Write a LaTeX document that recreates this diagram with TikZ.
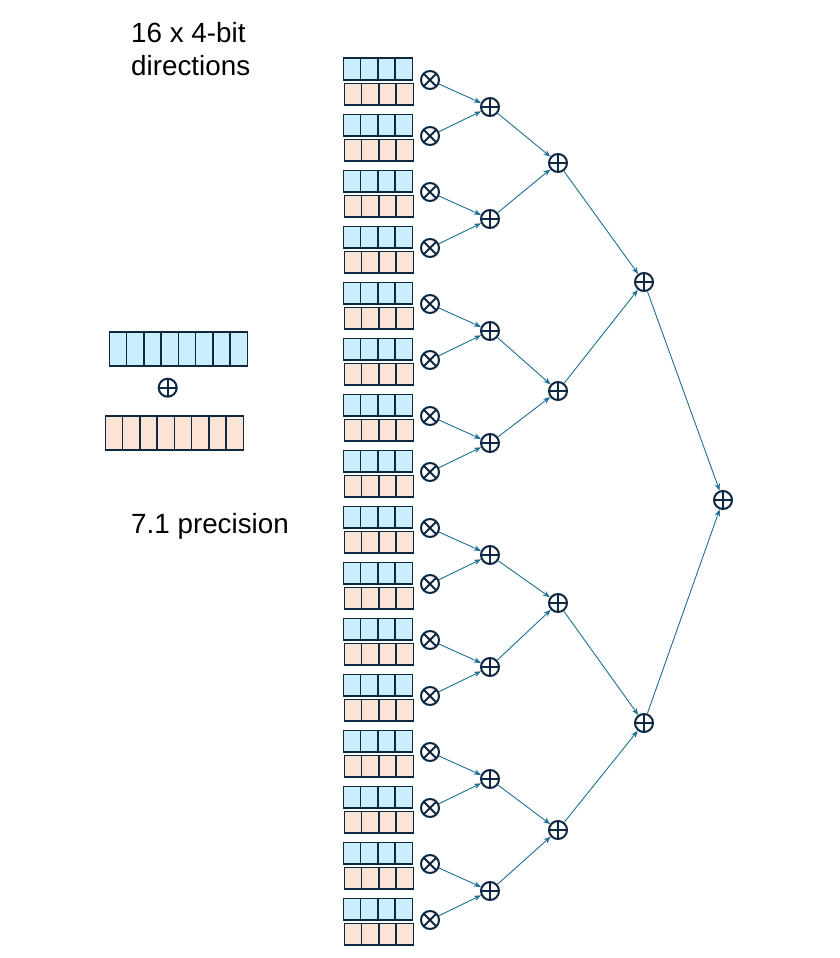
\documentclass[tikz,border=0pt]{standalone}
\usepackage{fontspec}
\setmainfont{Liberation Sans}
\usetikzlibrary{arrows.meta}
\definecolor{cellblue}{HTML}{CAEEFB}
\definecolor{cellpink}{HTML}{FBE3D6}
\definecolor{edgec}{HTML}{0E2841}
\definecolor{arrowc}{HTML}{1F6E94}
\tikzset{
  opnode/.style={circle, draw=edgec, line width=2pt, minimum size=18pt, inner sep=0pt},
  plusop/.style={opnode, path picture={\draw[edgec,line width=1.8pt]
      (path picture bounding box.north)--(path picture bounding box.south)
      (path picture bounding box.west)--(path picture bounding box.east);}},
  timesop/.style={opnode, path picture={\draw[edgec,line width=1.8pt]
      (path picture bounding box.north west)--(path picture bounding box.south east)
      (path picture bounding box.north east)--(path picture bounding box.south west);}},
  link/.style={draw=arrowc, line width=0.9pt, -{Stealth[length=7pt,width=5.5pt]}},
  txtlabel/.style={anchor=base west, inner sep=0pt, font=\fontsize{27.8}{32}\selectfont},
  cellrow/.style={draw=edgec, line width=1.6pt}
}
\begin{document}
\begin{tikzpicture}[x=1pt,y=-1pt]
\path[use as bounding box] (0,0) rectangle (840,958);

% captions
\node[txtlabel] (t1) at (131,43) {16 x 4-bit};
\node[txtlabel] (t2) at (131,75) {directions};
\node[txtlabel] (t3) at (131,533) {7.1 precision};

% big boxes
\filldraw[fill=cellblue, cellrow] (109.3,331.7) rectangle (247.3,366);
\foreach \k in {1,...,7} \draw[cellrow] (109.3+17.25*\k,331.7) -- (109.3+17.25*\k,366);
\filldraw[fill=cellpink, cellrow] (105.3,415.7) rectangle (243.3,450);
\foreach \k in {1,...,7} \draw[cellrow] (105.3+17.25*\k,415.7) -- (105.3+17.25*\k,450);
\node[plusop] (bigplus) at (167.7,387.7) {};

% adder tree nodes
\foreach \j/\yy in {0/107,1/219,2/331,3/443,4/555,5/667,6/779,7/891}
  \node[plusop] (a\j) at (490,\yy) {};
\foreach \j/\yy in {0/163,1/391,2/603,3/830}
  \node[plusop] (b\j) at (558,\yy) {};
\node[plusop] (c0) at (644,282) {};
\node[plusop] (c1) at (644,723) {};
\node[plusop] (d0) at (723,500) {};

% 16 pairs
\foreach \i in {0,...,15} {
  \pgfmathsetmacro\yb{58.3+56*\i}
  \pgfmathsetmacro\yp{83.3+56*\i}
  \filldraw[fill=cellblue, cellrow] (343.3,\yb) rectangle ++(69,21.7);
  \foreach \k in {1,2,3} \draw[cellrow] (343.3+17.25*\k,\yb) -- ++(0,21.7);
  \filldraw[fill=cellpink, cellrow] (344.3,\yp) rectangle ++(69,21.7);
  \foreach \k in {1,2,3} \draw[cellrow] (344.3+17.25*\k,\yp) -- ++(0,21.7);
  \node[timesop] (m\i) at (430,80+56*\i) {};
  \pgfmathtruncatemacro\jj{int(\i/2)}
  \draw[link] (m\i) -- (a\jj);
}

% tree connectors
\foreach \j in {0,...,7} {
  \pgfmathtruncatemacro\kk{int(\j/2)}
  \draw[link] (a\j) -- (b\kk);
}
\draw[link] (b0) -- (c0);
\draw[link] (b1) -- (c0);
\draw[link] (b2) -- (c1);
\draw[link] (b3) -- (c1);
\draw[link] (c0) -- (d0);
\draw[link] (c1) -- (d0);
\end{tikzpicture}
\end{document}
